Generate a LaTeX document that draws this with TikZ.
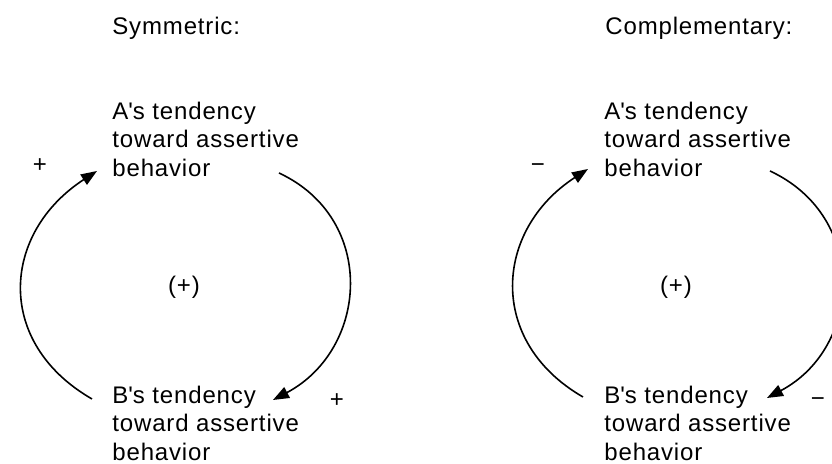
\documentclass[tikz,border=0pt]{standalone}
\usepackage{fontspec}
\setmainfont{Liberation Sans}[LetterSpace=3.5]
\usetikzlibrary{arrows.meta}

\begin{document}
\begin{tikzpicture}[x=0.5pt,y=0.5pt,
  every node/.style={inner sep=0pt,font=\fontsize{12}{14.25}\selectfont},
  block/.style={anchor=north west,align=left},
  feedback/.style={line width=0.8pt,-{Triangle[length=8pt,width=6pt]}}]
  \useasboundingbox (0,0) rectangle (832,464);
  \clip (0,0) rectangle (832,464);
  % symmetric loop (left)
  \node[anchor=base west] (symT) at (112,429) {Symmetric:};
  \node[block] (aL) at (112,362.5) {A\textquotesingle s tendency\\toward assertive\\behavior};
  \node[block] (bL) at (112,78.5) {B\textquotesingle s tendency\\toward assertive\\behavior};
  \node (symC) at (184,177) {(+)};
  \node (symS1) at (40,298) {+};
  \node (symS2) at (337,63) {+};
  \draw[feedback] ([shift={(-20,-13.5)}]bL.north west) to[out=150,in=213,looseness=1.27] ([shift={(-15,-69.5)}]aL.north west);
  \draw[feedback] ([shift={(167,-71.5)}]aL.north west) to[out=-25,in=28,looseness=1.22] ([shift={(161,-14.5)}]bL.north west);
  % complementary loop (right)
  \node[anchor=base west] (comT) at (605,429) {Complementary:};
  \node[block] (aR) at (604,362.5) {A\textquotesingle s tendency\\toward assertive\\behavior};
  \node[block] (bR) at (604,78.5) {B\textquotesingle s tendency\\toward assertive\\behavior};
  \node (comC) at (676,177) {(+)};
  \node (comS1) at (538,296) {−};
  \node (comS2) at (818,62) {−};
  \draw[feedback] ([shift={(-21,-11.5)}]bR.north west) to[out=150,in=213,looseness=1.25] ([shift={(-16,-67.5)}]aR.north west);
  \draw[feedback] ([shift={(166,-69.5)}]aR.north west) to[out=-25,in=28,looseness=1.22] ([shift={(163,-12.5)}]bR.north west);
\end{tikzpicture}
\end{document}
